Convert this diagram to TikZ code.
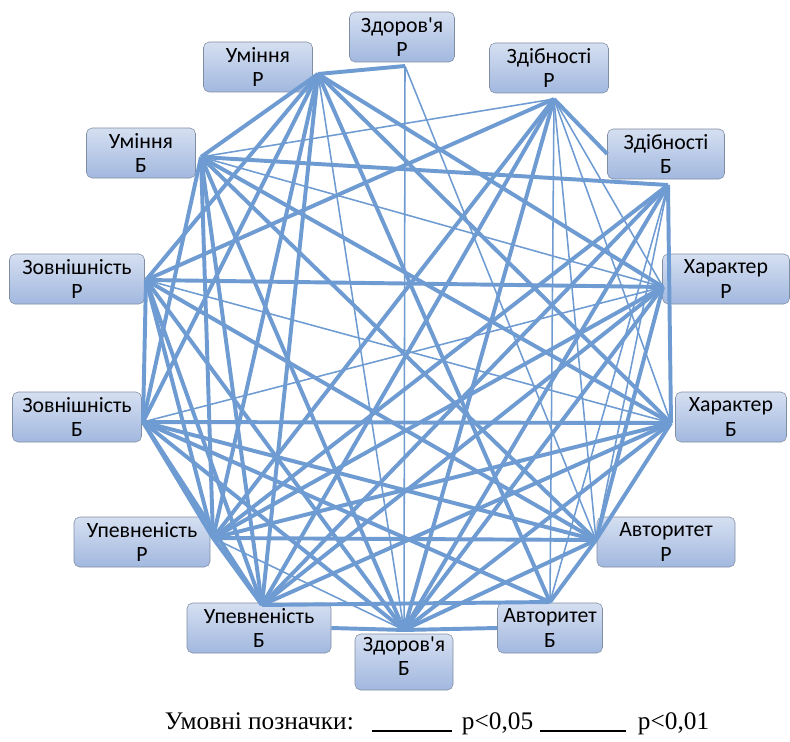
\documentclass[tikz,border=0pt]{standalone}
\usepackage{fontspec}
\setmainfont{Liberation Serif}
\newfontfamily\boxfont{Carlito}
\usetikzlibrary{shadings}
\definecolor{link}{HTML}{6E9BD2}
\definecolor{boxtop}{HTML}{D5DFF1}
\definecolor{boxbot}{HTML}{A2B8DF}
\definecolor{boxline}{HTML}{808EA3}

\begin{document}
\begin{tikzpicture}[x=0.025cm, y=-0.025cm,
    box/.style={draw=boxline, rounded corners=4pt, top color=boxtop, bottom color=boxbot,
        align=center, inner sep=0pt, minimum height=50*0.025cm, minimum width=#1*0.025cm,
        font=\boxfont\fontsize{15.5}{17.5}\selectfont},
    strong/.style={draw=link, line width=2.8pt},
    weak/.style={draw=link, line width=1.1pt}]
    \useasboundingbox (0,0) rectangle (790,742);

    % boxes
    \node [box=105] (zr) at (402,37) {Здоров'я\\Р};
    \node [box=109] (ur) at (258,67) {Уміння\\Р};
    \node [box=109] (ub) at (141,153) {Уміння\\Б};
    \node [box=135] (vr) at (77,279) {Зовнішність\\Р};
    \node [box=129] (vb) at (77,417) {Зовнішність\\Б};
    \node [box=136] (pr) at (142,542) {Упевненість\\Р};
    \node [box=144] (pb) at (259,628) {Упевненість\\Б};
    \node [box=98, minimum height=56*0.025cm, text depth=8.5pt] (zb) at (404,662) {Здоров'я\\Б};
    \node [box=105] (ab) at (550,628) {Авторитет\\Б};
    \node [box=138] (ar) at (666,542) {Авторитет\\Р};
    \node [box=111] (xb) at (731,417) {Характер\\Б};
    \node [box=127] (xr) at (726,279) {Характер\\Р};
    \node [box=117] (sb) at (666,154) {Здібності\\Б};
    \node [box=119] (sr) at (549,68) {Здібності\\Р};

    % points where the lines meet
    \coordinate (h-zr) at (405,66);
    \coordinate (h-ur) at (318,74);
    \coordinate (h-ub) at (201,157);
    \coordinate (h-vr) at (146,280);
    \coordinate (h-vb) at (143,422);
    \coordinate (h-pr) at (213,538);
    \coordinate (h-pb) at (262,605);
    \coordinate (h-zb) at (404,630);
    \coordinate (h-ab) at (550,602);
    \coordinate (h-ar) at (596,540);
    \coordinate (h-xb) at (671,423);
    \coordinate (h-xr) at (663,287);
    \coordinate (h-sb) at (668,185);
    \coordinate (h-sr) at (554,99);

    % p<0,01
    \foreach \a/\b in {zr/ur, ur/ub, ur/vr, ur/vb, ur/pr, ur/pb, ur/ab, ur/xb, ur/xr,
        ub/sb, ub/xb, ub/ar, ub/zb, ub/pb, ub/pr, ub/vb,
        vr/sr, vr/xr, vr/vb, vr/pr, vr/pb, vr/zb, vr/ar,
        vb/xb, vb/pr, vb/pb, vb/zb, vb/ab, vb/ar,
        pr/pb, pr/ar, pr/xb, pr/xr, pr/sb, pr/sr,
        pb/ab, pb/xb, pb/xr, pb/sr, pb/sb,
        zb/sr, zb/xr, zb/xb, zb/ar, zb/sb,
        ab/ar, ar/xb, ar/xr, xb/sb}
        \draw [strong] (h-\a) -- (h-\b);
    \draw [strong] (h-sr) -- (sb.west);
    \draw [strong] (pb.east) -- (h-zb) -- (ab.west);

    % p<0,05
    \foreach \a/\b in {zr/zb, zr/ar, ur/zb, ub/sr, ub/xr, vr/xb, vb/xr,
        pr/zb, ab/sr, ab/sb, ar/sr, ar/sb, xb/sr, xr/sr}
        \draw [weak] (h-\a) -- (h-\b);

    % legend
    \node [anchor=base west, font=\fontsize{18}{21}\selectfont] (legend) at (160,729) {Умовні позначки:};
    \draw [black, line width=0.8pt] (372,731) -- (452,731);
    \node [anchor=base west, font=\fontsize{18}{21}\selectfont] (p05) at (457,729) {p<0,05};
    \draw [black, line width=1.6pt] (540,731) -- (626,731);
    \node [anchor=base west, font=\fontsize{18}{21}\selectfont] (p01) at (633,729) {p<0,01};
\end{tikzpicture}
\end{document}
